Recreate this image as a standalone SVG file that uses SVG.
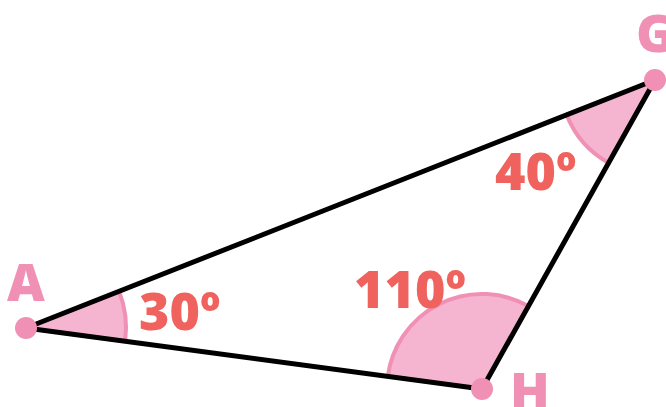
<svg xmlns="http://www.w3.org/2000/svg" width="666" height="407" viewBox="0 0 666 407">
<style>
.sector{fill:#F5B5D0;stroke:#F190B5;stroke-width:4}
.edge{stroke:#000;stroke-width:5;fill:none;stroke-linecap:round}
.dot{fill:#F190B5}
.vlabel{font-family:"Open Sans","Noto Sans",sans-serif;font-weight:800;font-size:52px;fill:#F190B5}
.alabel{font-family:"Open Sans","Noto Sans",sans-serif;font-weight:800;font-size:52px;fill:#F0625E}
</style>
<rect width="666" height="407" fill="#fff"/>
<g id="angles">
<path class="sector" d="M26 328 L119.04 291.35 A100 100 0 0 1 125.13 341.22 Z"/>
<path class="sector" d="M482 389 L387.8 376.4 A95 95 0 0 1 528.4 306.1 Z"/>
<path class="sector" d="M655 80 L566.6 114.8 A95 95 0 0 0 608.6 162.9 Z"/>
</g>
<g id="connectors">
<line class="edge" x1="26" y1="328" x2="655" y2="80"/>
<line class="edge" x1="26" y1="328" x2="482" y2="389"/>
<line class="edge" x1="482" y1="389" x2="655" y2="80"/>
</g>
<g id="A"><circle class="dot" cx="26" cy="328" r="11"/><text class="vlabel" x="7" y="301">A</text></g>
<g id="H"><circle class="dot" cx="482" cy="389" r="11"/><text class="vlabel" x="510" y="410">H</text></g>
<g id="G"><circle class="dot" cx="655" cy="80" r="11"/><text class="vlabel" x="636" y="52">G</text></g>
<text class="alabel" x="139" y="330">30º</text>
<text class="alabel" x="354" y="308">110º</text>
<text class="alabel" x="495" y="190">40º</text>
</svg>
